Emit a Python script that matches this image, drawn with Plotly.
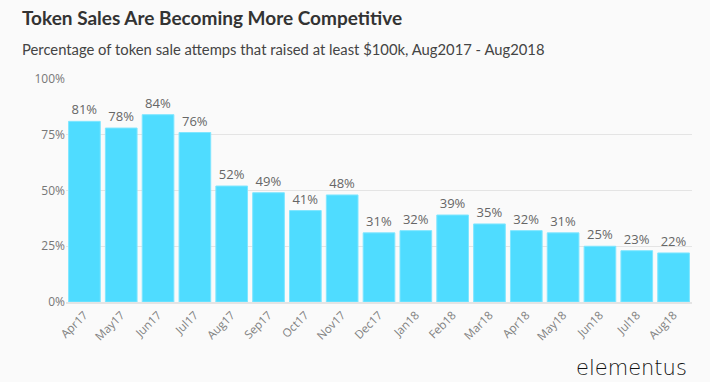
import plotly.graph_objects as go

months = ["Apr17","May17","Jun17","Jul17","Aug17","Sep17","Oct17","Nov17","Dec17",
          "Jan18","Feb18","Mar18","Apr18","May18","Jun18","Jul18","Aug18"]
values = [81,78,84,76,52,49,41,48,31,32,39,35,32,31,25,23,22]
tick_vals = [0,25,50,75,100]
tick_text = ["0%","25%","50%","75%","100%"]

fig = go.Figure(go.Bar(
    x=months, y=values,
    marker=dict(color="#4fdcff", line=dict(color="#7fe6ff", width=1)),
    text=[f"{v}%" for v in values], textposition="outside",
    textfont=dict(family="Open Sans", size=13, color="#666666"),
    cliponaxis=False,
))
fig.update_layout(
    width=710, height=382,
    paper_bgcolor="#fafafa", plot_bgcolor="#fafafa",
    margin=dict(l=66, r=18, t=79, b=80, autoexpand=False),
    bargap=0.14,
    showlegend=False,
    font=dict(family="Open Sans", color="#777777"),
)
fig.update_yaxes(range=[0,100], tickvals=tick_vals, ticktext=tick_text,
                 gridcolor="#e4e4e4", gridwidth=1, zeroline=False, automargin=False,
                 tickfont=dict(size=12, color="#777777"), ticks="", ticklen=0,
                 showline=False)
fig.update_xaxes(tickangle=-45, tickfont=dict(size=11.5, color="#808080"), automargin=False,
                 showline=True, linecolor="#e4e4e4", linewidth=2, ticks="")
fig.add_annotation(text="<b>Token Sales Are Becoming More Competitive</b>",
                   xref="paper", yref="paper", x=-0.0735, y=1.274, xanchor="left", yanchor="middle",
                   showarrow=False, font=dict(family="Lato", size=19, color="#333333"))
fig.add_annotation(text="Percentage of token sale attemps that raised at least $100k, Aug2017 - Aug2018",
                   xref="paper", yref="paper", x=-0.0735, y=1.135, xanchor="left", yanchor="middle",
                   showarrow=False, font=dict(family="Lato", size=14.8, color="#444444"))
fig.add_annotation(text="elementus",
                   xref="paper", yref="paper", x=0.996, y=-0.296, xanchor="right", yanchor="middle",
                   showarrow=False, font=dict(family="DejaVu Sans", size=21, weight=200, color="#111111"))
fig.write_html("out.html", config={"displayModeBar": False},
               post_script="document.body.style.margin='0';document.body.style.background='#fafafa';")
